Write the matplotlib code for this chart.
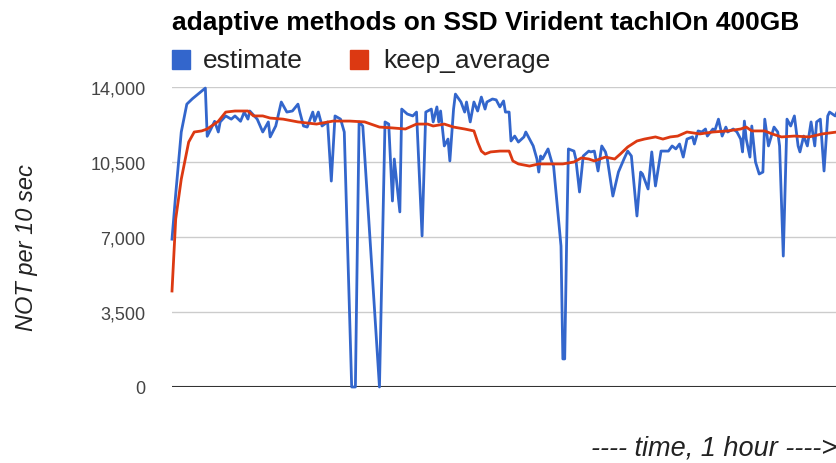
import numpy as np
import matplotlib.pyplot as plt

plt.rcParams['font.family'] = ['Liberation Sans', 'DejaVu Sans']

# time in seconds, values in NOT per 10 sec
t_est = [0, 20, 50, 80, 110, 180, 190, 210, 230, 250, 260, 290, 320, 340, 370, 390,
         410, 420, 460, 490, 520, 530, 560, 590, 620, 650, 680, 690, 710, 730, 760,
         770, 790, 810, 840, 860, 880, 910, 930, 970, 990, 1010, 1030, 1120, 1150,
         1170, 1190, 1200, 1230, 1240, 1270, 1300, 1320, 1350, 1370, 1400, 1410,
         1430, 1440, 1450, 1470, 1490, 1500, 1520, 1530, 1560, 1580, 1590, 1610,
         1630, 1650, 1670, 1690, 1700, 1730, 1750, 1770, 1790, 1800, 1820, 1830,
         1850, 1870, 1900, 1910, 1930, 1950, 1970, 1980, 1990, 2000, 2030, 2050,
         2060, 2100, 2110, 2120, 2130, 2140, 2170, 2180, 2200, 2220, 2250, 2260,
         2280, 2300, 2320, 2340, 2350, 2380, 2410, 2440, 2460, 2480, 2510, 2530,
         2540, 2570, 2590, 2610, 2640, 2650, 2680, 2700, 2720, 2740, 2760, 2780,
         2810, 2820, 2840, 2860, 2880, 2890, 2920, 2930, 2950, 2970, 2990, 3000,
         3030, 3050, 3070, 3080, 3090, 3100, 3120, 3130, 3150, 3170, 3190, 3200,
         3220, 3250, 3270, 3280, 3300, 3320, 3340, 3360, 3380, 3390, 3410, 3430,
         3450, 3470, 3480, 3500, 3520, 3540, 3550, 3580, 3590]
estimate = [6900, 9000, 11900, 13200, 13450, 13950, 11700, 12040, 12400, 11900, 12370,
            12650, 12500, 12650, 12400, 12830, 12500, 12880, 12500, 11900, 12370,
            11670, 12180, 13300, 12830, 12880, 13200, 12830, 12180, 12130, 12830,
            12400, 12830, 12180, 12370, 9610, 12650, 12500, 11900, 0, 0, 12370, 12180,
            0, 12370, 12270, 8680, 10640, 8170, 12970, 12740, 12650, 12830, 7050,
            12830, 12970, 12370, 13070, 12370, 12880, 11250, 11570, 10550, 12970,
            13670, 13300, 12830, 13300, 12370, 13300, 12880, 13530, 12970, 13300,
            13440, 13400, 13070, 13350, 12830, 12830, 11480, 11710, 11430, 11670,
            11900, 11570, 11250, 10640, 10030, 10780, 10640, 11110, 10500, 10310,
            6580, 1310, 1310, 6580, 11110, 11010, 10640, 9100, 10780, 11010, 10970,
            11010, 10080, 11250, 10970, 10640, 8910, 10030, 10640, 11010, 10780,
            7980, 10030, 9940, 9240, 10970, 9380, 11010, 11010, 11010, 11250, 11110,
            11340, 10730, 11570, 11670, 11340, 11950, 11900, 12040, 11710, 12040,
            11950, 12500, 11710, 12130, 11900, 12040, 11900, 11570, 10970, 12410,
            11570, 10730, 12180, 10500, 9940, 10030, 12500, 11250, 12130, 11900,
            11250, 6110, 12500, 12180, 12650, 11250, 10970, 11710, 11250, 12370,
            11250, 12370, 12500, 10080, 12650, 12830, 12650, 12830]

t_avg = [0, 20, 50, 90, 120, 160, 190, 250, 290, 340, 410, 440, 490, 530, 600, 680,
         780, 870, 960, 1040, 1120, 1190, 1260, 1320, 1380, 1410, 1470, 1520, 1580,
         1630, 1650, 1670, 1690, 1720, 1770, 1820, 1840, 1870, 1930, 1980, 2040,
         2110, 2170, 2210, 2250, 2280, 2340, 2390, 2420, 2460, 2510, 2550, 2610,
         2650, 2690, 2730, 2780, 2850, 2920, 3000, 3070, 3100, 3130, 3200, 3240,
         3290, 3360, 3440, 3510, 3590]
keep_average = [4480, 7840, 9700, 11430, 11900, 11950, 12040, 12400, 12830, 12880,
                12880, 12650, 12650, 12550, 12500, 12370, 12270, 12410, 12410, 12370,
                12130, 12090, 12040, 12270, 12270, 12180, 12270, 12130, 12040, 11950,
                11430, 11010, 10870, 10970, 11010, 11010, 10550, 10410, 10310, 10410,
                10410, 10410, 10500, 10690, 10640, 10550, 10730, 10640, 10870, 11200,
                11480, 11570, 11670, 11570, 11670, 11710, 11900, 11810, 11900, 11950,
                12040, 12130, 11950, 11950, 11810, 11670, 11710, 11670, 11810, 11900]

yticks = [0, 3500, 7000, 10500, 14000]

fig = plt.figure(figsize=(8.37, 4.64), dpi=100)
ax = fig.add_axes([172 / 837, 1 - 388 / 464, 1 - 172 / 837, 300 / 464])

ax.plot(t_est, estimate, color='#3366cc', linewidth=2, clip_on=False, zorder=3)
ax.plot(t_avg, keep_average, color='#dc3912', linewidth=2, clip_on=False, zorder=4)

ax.set_xlim(0, 3590)
ax.set_ylim(0, 14000)
ax.set_yticks(yticks)
ax.set_yticklabels(['{:,}'.format(v) for v in yticks], fontsize=13, color='#444444')
ax.set_xticks([])
ax.tick_params(axis='y', length=0, pad=19)
for v in yticks[1:]:
    ax.axhline(v, color='#cccccc', linewidth=1, zorder=1)
ax.axhline(0, color='#333333', linewidth=1.5, zorder=2)
for s in ax.spines.values():
    s.set_visible(False)

fig.text(172 / 837, 1 - 23 / 464, 'adaptive methods on SSD Virident tachIOn 400GB',
         fontsize=19, fontweight='bold', color='#000000', va='center', ha='left')

# legend
fig.patches.append(plt.Rectangle((172 / 837, 1 - 70 / 464), 18 / 837, 19 / 464,
                                 transform=fig.transFigure, color='#3366cc', figure=fig))
fig.text(203 / 837, 1 - 61 / 464, 'estimate', fontsize=19, color='#222222', va='center')
fig.patches.append(plt.Rectangle((350 / 837, 1 - 70 / 464), 18 / 837, 19 / 464,
                                 transform=fig.transFigure, color='#dc3912', figure=fig))
fig.text(383 / 837, 1 - 61 / 464, 'keep_average', fontsize=19, color='#222222', va='center')

fig.text(27 / 837, 1 - 248 / 464, 'NOT per 10 sec', fontsize=17, style='italic',
         color='#222222', rotation=90, va='center', ha='center')
fig.text(1.0, 1 - 449 / 464, '---- time, 1 hour ---->', fontsize=19.5, style='italic',
         color='#222222', va='center', ha='right')

fig.savefig('out.png', dpi=100)
